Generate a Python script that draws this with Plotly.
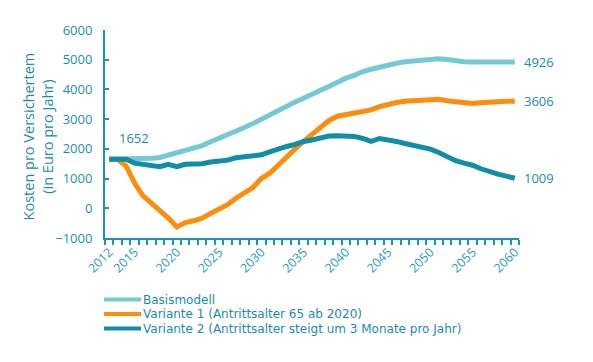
import plotly.graph_objects as go

years = list(range(2012, 2061))

basismodell = [1652, 1652, 1652, 1640, 1660, 1680, 1710, 1790, 1880, 1930,
               2010, 2110, 2240, 2350, 2470, 2580, 2720, 2850, 3000, 3150,
               3300, 3450, 3580, 3700, 3850, 3970, 4100, 4250, 4380, 4470,
               4600, 4680, 4760, 4820, 4880, 4930, 4960, 4980, 5020, 5030,
               5010, 4950, 4930, 4926, 4926, 4926, 4926, 4926, 4926]

variante1 = [1652, 1652, 1420, 850, 420, 180, -80, -330, -630, -480,
             -420, -330, -170, -30, 120, 340, 500, 700, 1000, 1180,
             1450, 1750, 2000, 2250, 2500, 2750, 2950, 3100, 3150, 3200,
             3250, 3310, 3420, 3500, 3560, 3600, 3620, 3660, 3660, 3670,
             3620, 3580, 3540, 3530, 3550, 3580, 3600, 3600, 3606]

variante2 = [1652, 1652, 1652, 1520, 1470, 1450, 1400, 1480, 1400, 1480,
             1490, 1500, 1560, 1590, 1620, 1700, 1720, 1740, 1800, 1900,
             2000, 2080, 2150, 2250, 2300, 2360, 2430, 2440, 2430, 2420,
             2350, 2250, 2350, 2320, 2250, 2180, 2130, 2060, 1990, 1880,
             1720, 1600, 1520, 1450, 1330, 1220, 1150, 1080, 1009]

series_names = ["Basismodell",
                "Variante 1 (Antrittsalter 65 ab 2020)",
                "Variante 2 (Antrittsalter steigt um 3 Monate pro Jahr)"]
series_colors = ["#74c9d6", "#ff8c0a", "#0f8ea6"]

x_tick_labels = [2012, 2015, 2020, 2025, 2030, 2035, 2040, 2045, 2050, 2055, 2060]
y_tick_values = [-1000, 0, 1000, 2000, 3000, 4000, 5000, 6000]

FONT = "Open Sans"
LEGEND_FONT = "DejaVu Sans"
TEXT = "#1a8cab"
AXIS = "#1a96b4"

fig = go.Figure()
for name, vals, col in zip(series_names, [basismodell, variante1, variante2], series_colors):
    fig.add_trace(go.Scatter(x=years, y=vals, mode="lines", name=name,
                             line=dict(color=col, width=5), showlegend=False))

# end labels
for vals in [basismodell, variante1, variante2]:
    fig.add_annotation(x=years[-1], y=vals[-1], text=str(vals[-1]), showarrow=False,
                       xanchor="left", yanchor="middle", xshift=7,
                       font=dict(family=FONT, size=13, color=TEXT))
# start label
fig.add_annotation(x=years[0], y=basismodell[0], text=str(basismodell[0]), showarrow=False,
                   xanchor="left", yanchor="bottom", xshift=8, yshift=10,
                   font=dict(family=FONT, size=13, color=TEXT))

# y title
fig.add_annotation(xref="paper", yref="paper", x=-0.161, y=0.49, textangle=-90,
                   text="Kosten pro Versichertem<br>(in Euro pro Jahr)", showarrow=False,
                   xanchor="center", yanchor="middle",
                   font=dict(family=FONT, size=14.5, color=TEXT))

# manual legend
W, H = 414, 208
row_px = [299.5, 314, 328.5]
for name, col, py in zip(series_names, series_colors, row_px):
    yp = (238 - py) / H
    fig.add_shape(type="line", xref="paper", yref="paper",
                  x0=(104 - 105) / W, x1=(141 - 105) / W, y0=yp, y1=yp,
                  line=dict(color=col, width=4))
    fig.add_annotation(xref="paper", yref="paper", x=(142 - 105) / W, y=yp,
                       text=name, showarrow=False, xanchor="left", yanchor="middle",
                       borderpad=0,
                       font=dict(family=LEGEND_FONT, size=12, color=TEXT))

fig.update_layout(
    width=585, height=354,
    margin=dict(l=97, r=74, t=22, b=124),
    paper_bgcolor="white", plot_bgcolor="white",
    font=dict(family=FONT, color=TEXT),
    xaxis=dict(range=[2011.5, 2060.5], tickmode="array", tickvals=x_tick_labels,
               ticktext=[str(v) for v in x_tick_labels], tickangle=-45, ticks="",
               showline=True, linecolor=AXIS, linewidth=2, showgrid=False, zeroline=False,
               tickfont=dict(family=FONT, size=12.5, color="#2a9cc4"),
               minor=dict(tick0=2011.5, dtick=1, ticks="outside", ticklen=5,
                          tickwidth=2, tickcolor=AXIS, showgrid=False)),
    yaxis=dict(range=[-1000, 6000], tickmode="array", tickvals=y_tick_values,
               ticks="inside", ticklen=4, tickwidth=2, tickcolor=AXIS,
               showline=True, linecolor=AXIS, linewidth=2, showgrid=False, zeroline=False,
               ticklabelstandoff=8,
               tickfont=dict(family=FONT, size=13, color="#1d8fb0")),
)

fig.write_html("out.html")
